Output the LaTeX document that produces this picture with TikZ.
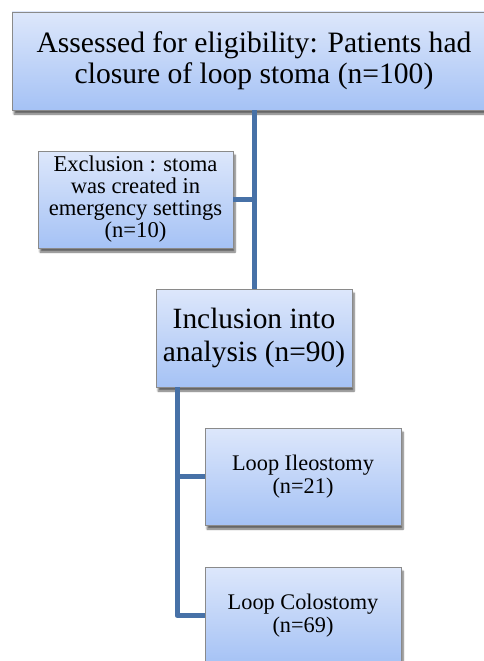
\documentclass[tikz,border=0pt]{standalone}
\usepackage{fontspec}
\setmainfont{Liberation Serif}
\usetikzlibrary{shadows.blur}
\definecolor{conncol}{HTML}{4771A7}
\definecolor{boxtop}{HTML}{DDE7FB}
\definecolor{boxbot}{HTML}{A5C2F5}
\definecolor{boxline}{HTML}{8A8A8A}
\tikzset{
  box/.style={draw=boxline, line width=0.8pt, rectangle, top color=boxtop, bottom color=boxbot,
    align=center, inner sep=0pt,
    blur shadow={shadow xshift=2pt, shadow yshift=-4pt, shadow blur steps=6, shadow opacity=60}},
  conn/.style={draw=conncol, line width=5pt, line join=round},
}
\begin{document}
\begin{tikzpicture}[x=1pt,y=-1pt]
\useasboundingbox (0,0) rectangle (484,661);
\clip (0,0) rectangle (484,661);
\node[box, minimum width=484pt, minimum height=98pt, font=\fontsize{29.6}{31}\selectfont] (top) at (254,61)
  {Assessed for eligibility: Patients had\\closure of loop stoma (n=100)};
\node[box, minimum width=195pt, minimum height=97pt, font=\fontsize{22.6}{22}\selectfont] (excl) at (135.5,199.5)
  {Exclusion : stoma\\was created in\\emergency settings\\(n=10)};
\node[box, minimum width=196pt, minimum height=98pt, font=\fontsize{29.4}{33}\selectfont] (incl) at (254,338)
  {Inclusion into\\analysis (n=90)};
\node[box, minimum width=196pt, minimum height=97pt, font=\fontsize{22.3}{23}\selectfont] (ileo) at (303,476.5)
  {Loop Ileostomy\\(n=21)};
\node[box, minimum width=196pt, minimum height=97pt, font=\fontsize{22.3}{23}\selectfont] (colo) at (303,615.5)
  {Loop Colostomy\\(n=69)};
\coordinate (bx) at (177,387);
\draw[conn] (top.south) -- (incl.north);
\draw[conn] (excl.east) -- (excl.east -| top.south);
\draw[conn] (bx) |- (colo.west);
\draw[conn] (ileo.west) -- (ileo.west -| bx);
\end{tikzpicture}
\end{document}
